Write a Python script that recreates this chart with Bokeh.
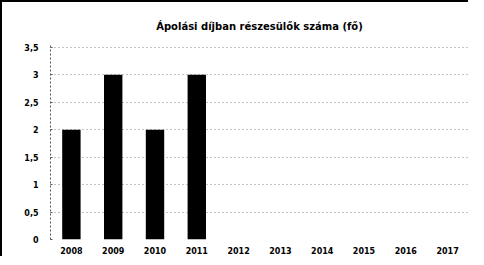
from bokeh.plotting import figure
from bokeh.layouts import column
from bokeh.embed import file_html
from bokeh.resources import INLINE
from bokeh.models import CustomJSTickFormatter, Range1d, FixedTicker

years = ["2008", "2009", "2010", "2011", "2012", "2013", "2014", "2015", "2016", "2017"]
values = [2, 3, 2, 3, 0, 0, 0, 0, 0, 0]
y_ticks = [0, 0.5, 1, 1.5, 2, 2.5, 3, 3.5]
title = "Ápolási díjban részesülők száma (fő)"

p = figure(x_range=years, width=464, height=254, output_backend="svg",
           toolbar_location=None, title=title,
           min_border_left=46, min_border_right=0, min_border_top=42, min_border_bottom=17)
p.y_range = Range1d(0, 3.55)
p.vbar(x=years, top=values, width=0.44, fill_color="black", line_color=None)

p.title.align = "center"
p.title.text_font = "DejaVu Sans"
p.title.text_font_size = "10px"
p.title.text_font_style = "bold"
p.title.text_color = "black"
p.title.offset = 0
p.title.standoff = 26

p.outline_line_color = None
p.xgrid.grid_line_color = None
p.ygrid.grid_line_color = "#888888"
p.ygrid.grid_line_dash = "1 3"
p.ygrid.grid_line_width = 1

p.yaxis.ticker = FixedTicker(ticks=y_ticks)
p.yaxis.formatter = CustomJSTickFormatter(code="return tick.toString().replace('.', ',');")
p.yaxis.axis_line_color = "#555555"
p.yaxis.axis_line_dash = "2 2"
p.yaxis.major_tick_line_color = "#555555"
p.yaxis.major_tick_in = 2
p.yaxis.major_tick_out = 0
p.yaxis.minor_tick_line_color = None
p.yaxis.major_label_standoff = 12

p.xaxis.axis_line_color = None
p.xaxis.major_tick_line_color = None
p.xaxis.major_tick_in = 0
p.xaxis.major_tick_out = 0
p.xaxis.minor_tick_in = 0
p.xaxis.minor_tick_out = 0
p.xaxis.major_label_standoff = 7

for ax in (p.xaxis, p.yaxis):
    ax.major_label_text_font = "DejaVu Sans"
    ax.major_label_text_font_size = "8px"
    ax.major_label_text_font_style = "bold"
    ax.major_label_text_color = "black"

layout = column(p, styles={"border-left": "2px solid black", "border-top": "2px solid black",
                           "padding-left": "2px"})

open("out.html", "w").write(file_html(layout, INLINE))
